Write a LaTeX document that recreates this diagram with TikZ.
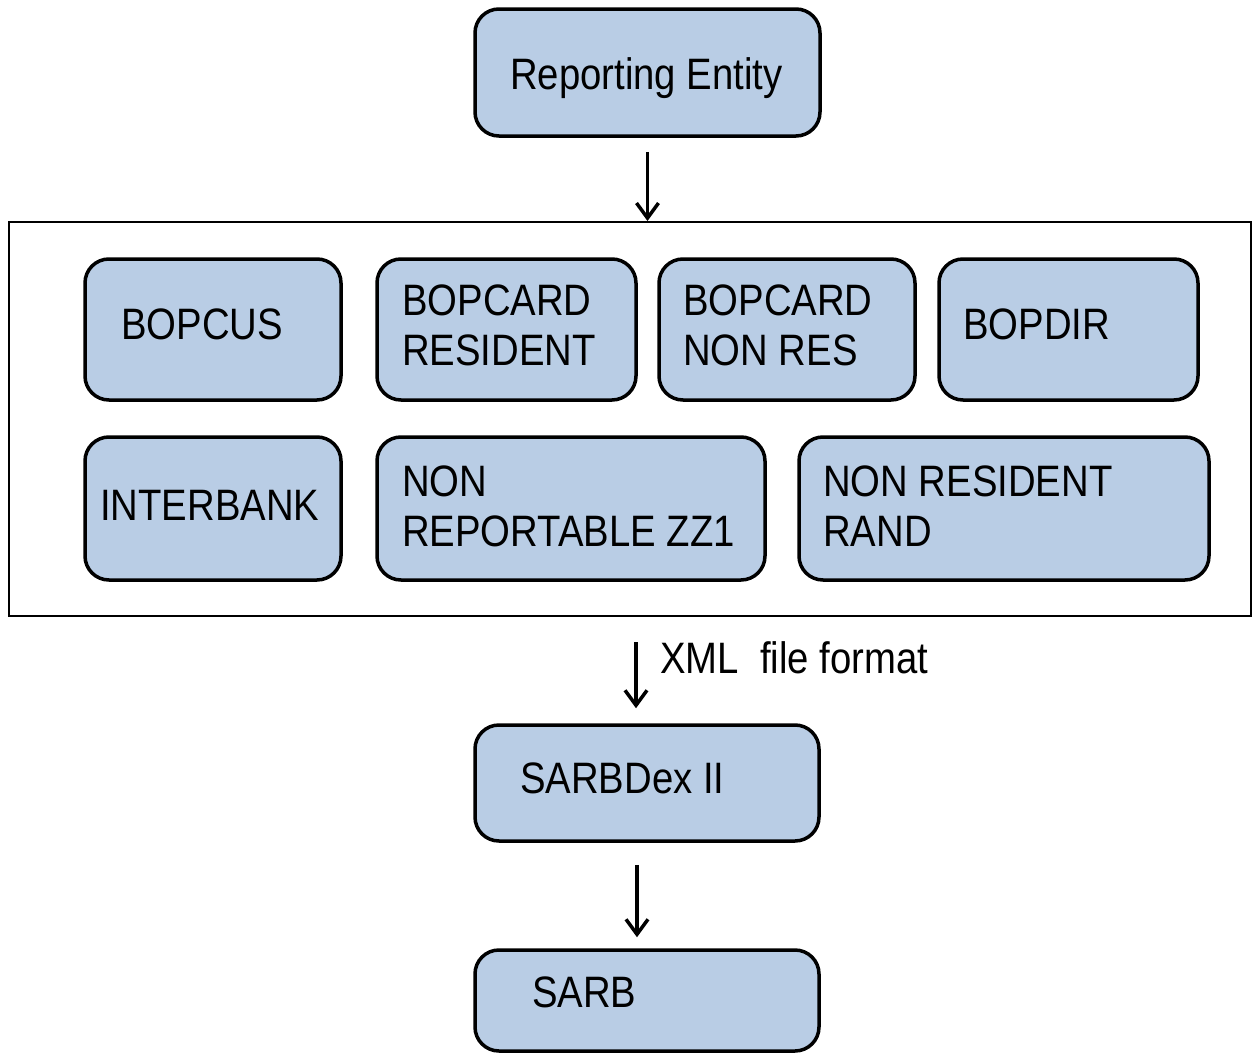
\documentclass[tikz,border=0pt]{standalone}
\usepackage{fontspec}
\setmainfont{Liberation Sans}
\usepackage{graphicx}
\usetikzlibrary{arrows.meta,calc}
\definecolor{boxblue}{HTML}{B9CDE5}
\newcommand{\sqz}[1]{\scalebox{0.87}[1]{\begin{tabular}[t]{@{}l@{}}#1\end{tabular}}}
\begin{document}
\begin{tikzpicture}[x=1pt,y=-1pt,
  rbox/.style={draw=black, line width=3.5pt, fill=boxblue, rounded corners=24pt, inner sep=0pt},
  frame/.style={draw=black, line width=2pt, fill=none, inner sep=0pt},
  txt/.style={anchor=base west, inner sep=0pt, font=\fontsize{44}{50}\selectfont, text=black},
  arr/.style={line width=3.5pt, -{Straight Barb[length=15pt,width=22pt,line width=3.5pt]}}]
\useasboundingbox (0,0) rectangle (1254,1055);
\fill[white] (0,0) rectangle (1254,1055);
% container
\node[frame, minimum width=1242pt, minimum height=394pt] (grp) at (630,419) {};
% boxes
\node[rbox, minimum width=345pt, minimum height=127pt] (re) at (647.5,72.5) {};
\node[rbox, minimum width=256pt, minimum height=141pt] (bopcus) at (213,329.5) {};
\node[rbox, minimum width=259pt, minimum height=141pt] (bres) at (506.5,329.5) {};
\node[rbox, minimum width=256pt, minimum height=141pt] (bnon) at (787,329.5) {};
\node[rbox, minimum width=259pt, minimum height=141pt] (bdir) at (1068.5,329.5) {};
\node[rbox, minimum width=256pt, minimum height=143pt] (ibank) at (213,508.5) {};
\node[rbox, minimum width=388pt, minimum height=143pt] (nonrep) at (571,508.5) {};
\node[rbox, minimum width=410pt, minimum height=143pt] (nrr) at (1004,508.5) {};
\node[rbox, minimum width=344pt, minimum height=116pt] (sdex) at (647,783) {};
\node[rbox, minimum width=344pt, minimum height=101pt] (sarb) at (647,1000.5) {};
% texts
\node[txt] (reT) at (510,89) {\sqz{Reporting Entity}};
\node[txt] (bopcusT) at (121,339) {\sqz{BOPCUS}};
\node[txt] (bresT) at (402,315) {\sqz{BOPCARD\\RESIDENT}};
\node[txt] (bnonT) at (683,315) {\sqz{BOPCARD\\NON RES}};
\node[txt] (bdirT) at (963,339) {\sqz{BOPDIR}};
\node[txt] (ibankT) at (100,520) {\sqz{INTERBANK}};
\node[txt] (nonrepT) at (402,496) {\sqz{NON\\REPORTABLE ZZ1}};
\node[txt] (nrrT) at (823,496) {\sqz{NON RESIDENT\\RAND}};
\node[txt] (sdexT) at (520,793) {\sqz{SARBDex II}};
\node[txt] (sarbT) at (532,1007) {\sqz{SARB}};
\node[txt] (xmlT) at (660,673) {\sqz{XML\ \ file format}};
% connectors
\draw[arr] ([yshift=-14pt]re.south) -- (re.south |- grp.north);
\draw[arr] ([xshift=-11pt,yshift=-25pt]sdex.north |- grp.south) -- ([xshift=-11pt,yshift=15pt]sdex.north);
\draw[arr] ([xshift=-10pt,yshift=-22pt]sdex.south) -- ([xshift=-10pt,yshift=11pt]sarb.north);
\end{tikzpicture}
\end{document}
